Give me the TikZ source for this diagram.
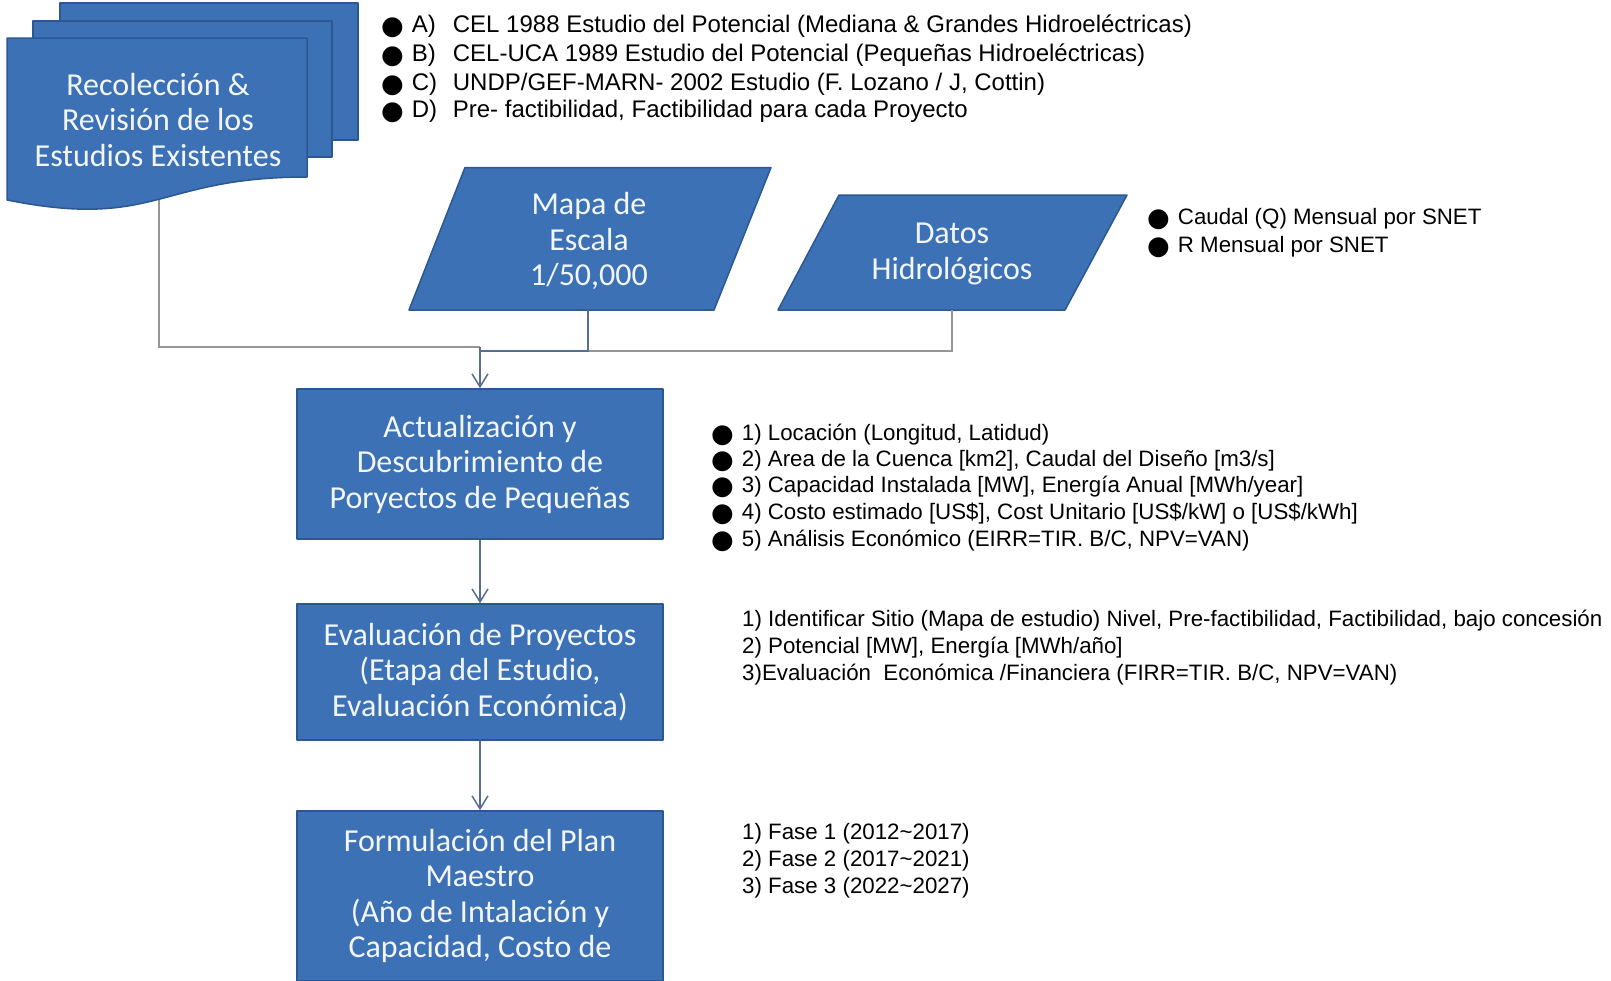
\documentclass[tikz,border=0pt]{standalone}
\usepackage{fontspec}
\setmainfont{Liberation Sans}
\newfontfamily\boxfont{Carlito}
\newfontfamily\dotfont{DejaVu Sans}
\usetikzlibrary{arrows.meta}

\definecolor{boxfill}{RGB}{60,113,181}
\definecolor{boxline}{RGB}{44,88,146}
\definecolor{boxtext}{RGB}{242,246,251}
\definecolor{linkgray}{RGB}{150,150,150}
\definecolor{linkblue}{RGB}{84,110,150}

% filled round bullet
\newcommand{\bul}{\raisebox{-2pt}{\dotfont\fontsize{26}{26}\selectfont ●}}

\begin{document}
\begin{tikzpicture}[x=1pt,y=-1pt,
  shapefill/.style={fill=boxfill, draw=boxline, line width=1.5pt, line join=round},
  boxtxt/.style={text=boxtext, font=\boxfont\fontsize{32}{35.5}\selectfont, align=center, inner sep=0pt},
  stepbox/.style={shapefill, boxtxt, rectangle, minimum width=366pt},
  sidetxt/.style={font=\fontsize{22.3}{26}\selectfont, inner sep=0pt, anchor=base west, text=black},
  toptxt/.style={sidetxt, font=\fontsize{24}{28}\selectfont},
  link/.style={line width=1.5pt, draw=linkgray},
  linkb/.style={line width=1.5pt, draw=linkblue},
  flow/.style={line width=1.5pt, draw=linkblue, -{Straight Barb[length=13pt,width=16pt,line width=1.5pt]}}
]
\useasboundingbox (0,0) rectangle (1611,980);
\fill[white] (0,0) rectangle (1611,980);

% stacked sheets of the multi-document symbol
\draw[shapefill] (60,3) rectangle (358,140);
\draw[shapefill] (33,21) rectangle (332,157);
\draw[shapefill] (7,38) -- (307,38) -- (307,177)
  .. controls (157,177) and (157,230) .. (7,200) -- cycle;
\node[boxtxt] (doc) at (158,120) {Recolección \&\\Revisión de los\\Estudios Existentes};

% input parallelograms
\draw[shapefill] (465,167.5) -- (771,167.5) -- (714,310) -- (409,310) -- cycle;
\node[boxtxt] (mapa) at (589,241) {Mapa de\\Escala\\1/50,000};
\draw[shapefill] (839,195) -- (1127,195) -- (1065,310) -- (778,310) -- cycle;
\node[boxtxt] (datos) at (952,254) {Datos\\Hidrológicos};

% process boxes
\node[stepbox, minimum height=150pt] (act) at (480,464)
  {Actualización y\\Descubrimiento de\\Poryectos de Pequeñas};
\node[stepbox, minimum height=136pt] (eval) at (480,672)
  {Evaluación de Proyectos\\(Etapa del Estudio,\\Evaluación Económica)};
\node[stepbox, minimum height=170pt] (form) at (480,896)
  {Formulación del Plan\\Maestro\\(Año de Intalación y\\Capacidad, Costo de};

% connectors
\coordinate (docbot) at (159,200);
\coordinate (mapabot) at (588,310);
\coordinate (datosbot) at (952,310);
\coordinate (j1) at (480,347);
\coordinate (j2) at (480,351);
\draw[link] (docbot) |- (j1);
\draw[link] (datosbot) |- (j2);
\draw[linkb] (mapabot) |- (j2);
\draw[flow] (j1) -- (act.north);
\draw[flow] (act.south) -- (eval.north);
\draw[flow] (eval.south) -- (form.north);

% list of existing studies
\node[toptxt] (sa) at (381,32) {\bul\hspace{8pt}\makebox[41pt][l]{A)}CEL 1988 Estudio del Potencial (Mediana \& Grandes Hidroeléctricas)};
\node[toptxt] (sb) at (381,61) {\bul\hspace{8pt}\makebox[41pt][l]{B)}CEL-UCA 1989 Estudio del Potencial (Pequeñas Hidroeléctricas)};
\node[toptxt] (sc) at (381,90) {\bul\hspace{8pt}\makebox[41pt][l]{C)}UNDP/GEF-MARN- 2002 Estudio (F. Lozano / J, Cottin)};
\node[toptxt] (sd) at (381,117.5) {\bul\hspace{8pt}\makebox[41pt][l]{D)}Pre- factibilidad, Factibilidad para cada Proyecto};

% hydrological data notes
\node[sidetxt] (ha) at (1147,224.5) {\bul\hspace{8pt}Caudal (Q) Mensual por SNET};
\node[sidetxt] (hb) at (1147,252) {\bul\hspace{8pt}R Mensual por SNET};

% project data notes
\node[sidetxt] (pa) at (711,440) {\bul\hspace{8pt}1) Locación (Longitud, Latidud)};
\node[sidetxt] (pb) at (711,466.5) {\bul\hspace{8pt}2) Area de la Cuenca [km2], Caudal del Diseño [m3/s]};
\node[sidetxt] (pc) at (711,492.5) {\bul\hspace{8pt}3) Capacidad Instalada [MW], Energía Anual [MWh/year]};
\node[sidetxt] (pd) at (711,519) {\bul\hspace{8pt}4) Costo estimado [US\$], Cost Unitario [US\$/kW] o [US\$/kWh]};
\node[sidetxt] (pe) at (711,546) {\bul\hspace{8pt}5) Análisis Económico (EIRR=TIR. B/C, NPV=VAN)};

% evaluation notes
\node[sidetxt] (ea) at (742,626) {1) Identificar Sitio (Mapa de estudio) Nivel, Pre-factibilidad, Factibilidad, bajo concesión};
\node[sidetxt] (eb) at (742,653.5) {2) Potencial [MW], Energía [MWh/año]};
\node[sidetxt] (ec) at (742,680.5) {3)Evaluación\ \ Económica /Financiera (FIRR=TIR. B/C, NPV=VAN)};

% phases
\node[sidetxt] (fa) at (742,839.5) {1) Fase 1 (2012\textasciitilde 2017)};
\node[sidetxt] (fb) at (742,866.5) {2) Fase 2 (2017\textasciitilde 2021)};
\node[sidetxt] (fc) at (742,893) {3) Fase 3 (2022\textasciitilde 2027)};
\end{tikzpicture}
\end{document}
